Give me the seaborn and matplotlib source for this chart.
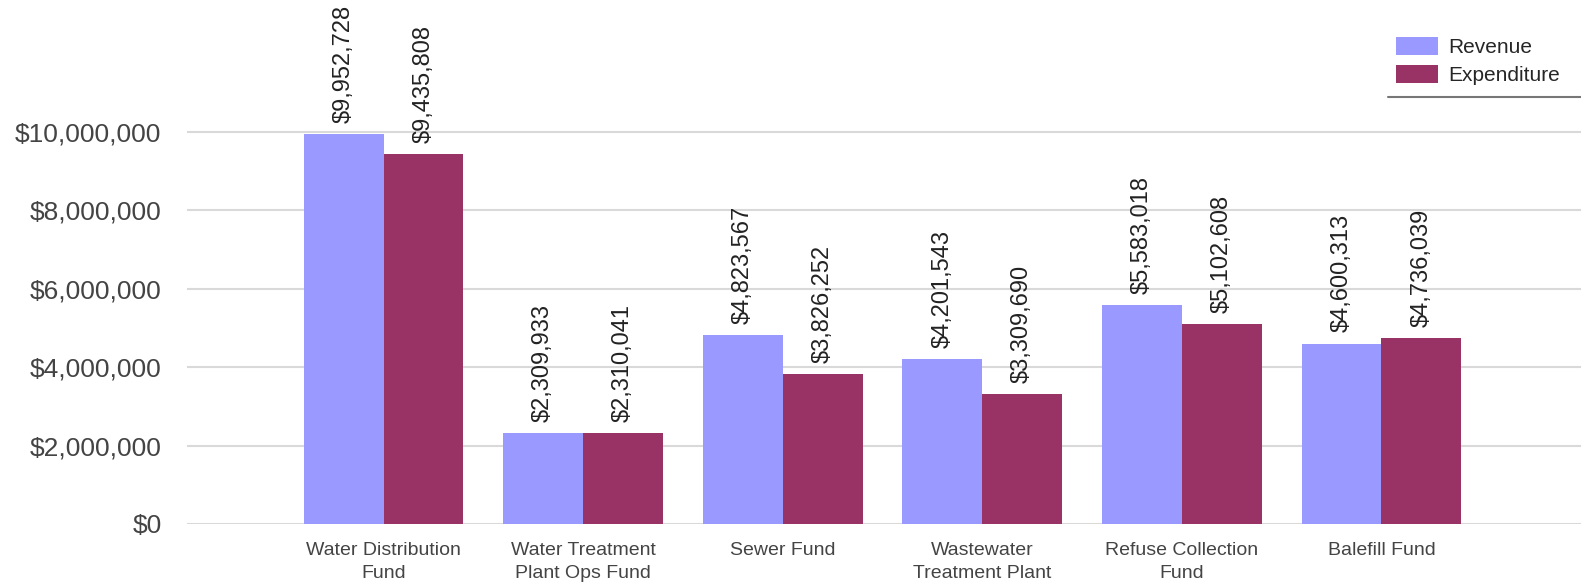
import numpy as np
import pandas as pd
import matplotlib.pyplot as plt
import matplotlib.ticker as mticker
from matplotlib.lines import Line2D
import seaborn as sns

# fund names as shown under the bars
funds = ['Water Distribution\nFund', 'Water Treatment\nPlant Ops Fund', 'Sewer Fund',
         'Wastewater\nTreatment Plant', 'Refuse Collection\nFund', 'Balefill Fund']
revenue = [9952728, 2309933, 4823567, 4201543, 5583018, 4600313]
expenditure = [9435808, 2310041, 3826252, 3309690, 5102608, 4736039]

series = ['Revenue', 'Expenditure']
colors = ['#9999ff', '#993366']

df = pd.DataFrame({
    'Fund': funds * 2,
    'Type': ['Revenue'] * len(funds) + ['Expenditure'] * len(funds),
    'Amount': revenue + expenditure,
})

sns.set_theme(style="white")
plt.rcParams['font.family'] = ['Liberation Sans', 'DejaVu Sans']

fig = plt.figure(figsize=(15.81, 5.88), dpi=100)
ax = fig.add_axes([0.118, 0.109, 0.882, 0.80])

sns.barplot(data=df, x='Fund', y='Amount', hue='Type', hue_order=series,
            palette=colors, width=0.8, gap=0, linewidth=0, saturation=1,
            errorbar=None, ax=ax)

# value labels, rotated, above each bar
for cont in ax.containers:
    ax.bar_label(cont, labels=[f'${v:,.0f}' for v in cont.datavalues],
                 rotation=90, padding=8, fontsize=17, color='#222222')

ax.set_ylim(0, 12000000)
ax.set_xlim(-0.987, 6.0)
ax.set_yticks(np.arange(0, 10000001, 2000000))
ax.yaxis.set_major_formatter(mticker.FuncFormatter(lambda v, p: f'${v:,.0f}'))
ax.tick_params(axis='y', labelsize=19, labelcolor='#444444', length=0, pad=18)
ax.set_xticks(range(len(funds)), funds, linespacing=1.45, fontsize=14, color='#444444')
ax.tick_params(axis='x', length=0, pad=13)
ax.set_xlabel('')
ax.set_ylabel('')

ax.yaxis.grid(True, color='#d9d9d9', linewidth=1.5)
ax.set_axisbelow(True)
for s in ax.spines.values():
    s.set_visible(False)

ax.get_legend().remove()
handles, labels = ax.get_legend_handles_labels()
fig.legend(handles, labels, loc='upper left', bbox_to_anchor=(1392 / 1581, 1 - 33 / 588),
           frameon=False, fontsize=15, handlelength=2.0, handleheight=0.95,
           handletextpad=0.5, labelspacing=0.35, borderaxespad=0, borderpad=0.2)

# grey rule under the legend
fig.add_artist(Line2D([0.878, 1.0], [1 - 97 / 588, 1 - 97 / 588],
                      color='#777777', linewidth=1.5))

fig.savefig('out.png', dpi=100)
